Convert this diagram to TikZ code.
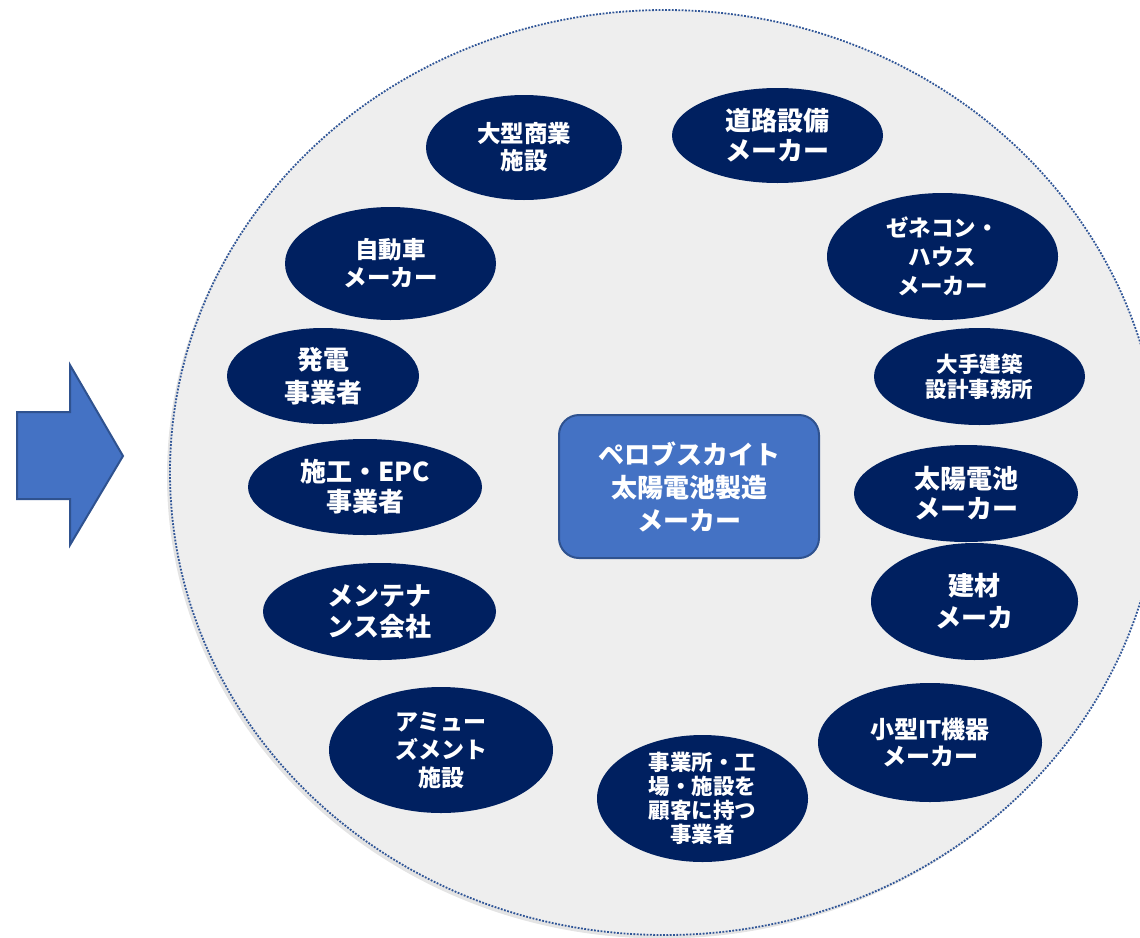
\documentclass[tikz,border=0pt]{standalone}
\usepackage{fontspec}
\newfontfamily\jp{Noto Sans CJK JP}
\usetikzlibrary{shapes.geometric}
\definecolor{navy}{HTML}{002060}
\definecolor{mblue}{HTML}{4472C4}
\definecolor{bord}{HTML}{2F528F}
\definecolor{dotc}{HTML}{2F5597}
\definecolor{bgc}{HTML}{EEEEEE}
\definecolor{shadc}{HTML}{E4E4E4}
\tikzset{
  oval/.style={ellipse, fill=navy, draw=none, inner sep=0pt},
  lbl/.style={text=white, align=center, inner sep=0pt},
  fs/.style 2 args={font=\jp\bfseries\fontsize{#1}{#2}\selectfont},
  corebox/.style={draw=bord, line width=2pt, fill=mblue, rounded corners=20pt, inner sep=0pt},
}
\begin{document}
\begin{tikzpicture}[x=1pt,y=-1pt]
\useasboundingbox (0,0) rectangle (1140,937);
\clip (0,0) rectangle (1140,937);
% big background ellipse
\fill[shadc] (662,476) ellipse [x radius=495, y radius=462.5];
\draw[fill=bgc, draw=dotc, line width=1.8pt, dash pattern=on 1.8pt off 1.5pt] (665,472.5) ellipse [x radius=495, y radius=462.5];
% arrow
\draw[fill=mblue, draw=bord, line width=2pt, line join=miter] (17,412) -- (70,412) -- (70,365) -- (123,456) -- (70,545) -- (70,499) -- (17,499) -- cycle;
% core box
\node[corebox, minimum width=260pt, minimum height=143pt] (core) at (689,486.5) {};
\node[lbl, fs={26}{33}] (tcore) at (core.center) {ペロブスカイト\\太陽電池製造\\メーカー};
% ovals
\node[oval, minimum width=196pt, minimum height=105pt] (A) at (524,147.5) {};
\node[lbl, fs={23.5}{27}] (tA) at (A.center) {大型商業\\施設};
\node[oval, minimum width=211pt, minimum height=95pt] (B) at (777.5,135.5) {};
\node[lbl, fs={26}{30}] (tB) at (B.center) {道路設備\\メーカー};
\node[oval, minimum width=211pt, minimum height=113pt] (C) at (390.5,263.5) {};
\node[lbl, fs={23.5}{28}] (tC) at (C.center) {自動車\\メーカー};
\node[oval, minimum width=231pt, minimum height=127pt] (D) at (942.5,256.5) {};
\node[lbl, fs={22.5}{29}] (tD) at (D.center) {ゼネコン・\\ハウス\\メーカー};
\node[oval, minimum width=211pt, minimum height=97pt] (E) at (979.5,376.5) {};
\node[lbl, fs={21.5}{25}] (tE) at (E.center) {大手建築\\設計事務所};
\node[oval, minimum width=192pt, minimum height=96pt] (F) at (323,376) {};
\node[lbl, fs={26}{33}] (tF) at (F.center) {発電\\事業者};
\node[oval, minimum width=234pt, minimum height=96pt] (G) at (365,487) {};
\node[lbl, fs={26}{30}] (tG) at (G.center) {施工・EPC\\事業者};
\node[oval, minimum width=224pt, minimum height=97pt] (H) at (966,493.5) {};
\node[lbl, fs={26}{30}] (tH) at (H.center) {太陽電池\\メーカー};
\node[oval, minimum width=207pt, minimum height=117pt] (I) at (974.5,601.5) {};
\node[lbl, fs={26}{32}] (tI) at (I.center) {建材\\メーカ};
\node[oval, minimum width=233pt, minimum height=97pt] (J) at (379.5,611.5) {};
\node[lbl, fs={26}{31}] (tJ) at (J.center) {メンテナ\\ンス会社};
\node[oval, minimum width=224pt, minimum height=119pt] (K) at (930,742.5) {};
\node[lbl, fs={24}{27}] (tK) at (K.center) {小型IT機器\\メーカー};
\node[oval, minimum width=224pt, minimum height=126pt] (L) at (441,750) {};
\node[lbl, fs={23}{28}] (tL) at (L.center) {アミュー\\ズメント\\施設};
\node[oval, minimum width=211pt, minimum height=127pt] (M) at (702.5,798.5) {};
\node[lbl, fs={21.5}{24}] (tM) at (M.center) {事業所・工\\場・施設を\\顧客に持つ\\事業者};
\end{tikzpicture}
\end{document}
